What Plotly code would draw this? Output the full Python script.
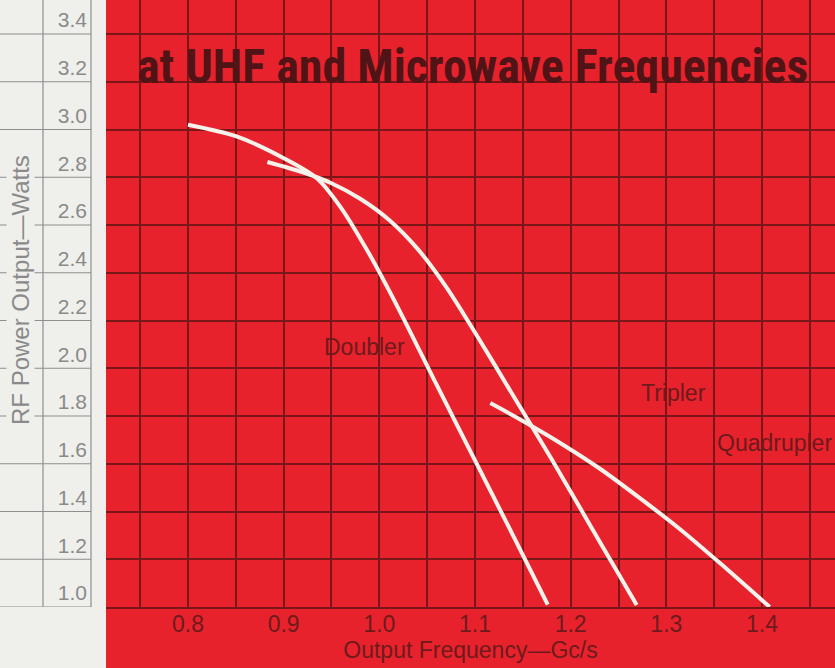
import plotly.graph_objects as go

# values (Gc/s, watts)
doubler_x = [0.800, 0.850, 0.900, 0.935, 0.960, 0.990, 1.020, 1.060, 1.100, 1.140, 1.176]
doubler_y = [3.020, 2.972, 2.880, 2.795, 2.672, 2.475, 2.250, 1.930, 1.614, 1.298, 1.010]

tripler_x = [0.883, 0.920, 0.950, 0.980, 1.010, 1.040, 1.070, 1.100, 1.140, 1.180, 1.220, 1.269]
tripler_y = [2.864, 2.821, 2.775, 2.710, 2.622, 2.500, 2.340, 2.150, 1.885, 1.620, 1.345, 1.008]

quadrupler_x = [1.116, 1.150, 1.189, 1.231, 1.272, 1.314, 1.356, 1.408]
quadrupler_y = [1.854, 1.779, 1.687, 1.578, 1.457, 1.327, 1.184, 1.000]

y_ticks = [1.0, 1.2, 1.4, 1.6, 1.8, 2.0, 2.2, 2.4, 2.6, 2.8, 3.0, 3.2, 3.4]

RED = "#e8222c"
GRID = "#7a1518"
STRIP = "#efefec"
STRIP_LINE = "#8e8e8e"
DARK = "#6e1a1c"
CURVE = "#f5f2ec"
SANS = "Liberation Sans, Arial, sans-serif"

W, H = 835, 668
L, B = 106, 61
pw = W - L
ph = H - B

fig = go.Figure()
for xs, ys in [(doubler_x, doubler_y), (tripler_x, tripler_y), (quadrupler_x, quadrupler_y)]:
    fig.add_trace(go.Scatter(x=xs, y=ys, mode="lines",
                             line=dict(color=CURVE, width=4, shape="spline", smoothing=0.8),
                             showlegend=False, hoverinfo="skip"))

# light strip on the left with its own ruling
shapes = [dict(type="rect", xref="paper", yref="paper", x0=-L / pw, x1=0, y0=-B / ph, y1=1,
               fillcolor=STRIP, line_width=0, layer="below")]
for px in [43, 91]:
    shapes.append(dict(type="line", xref="paper", yref="paper",
                       x0=(px - L) / pw, x1=(px - L) / pw, y0=0, y1=1,
                       line=dict(color=STRIP_LINE, width=1.2)))
for v in y_ticks:
    shapes.append(dict(type="line", xref="paper", yref="y",
                       x0=-L / pw, x1=(91 - L) / pw, y0=v, y1=v,
                       line=dict(color=STRIP_LINE, width=1.2)))
fig.update_layout(shapes=shapes)

fig.add_annotation(text="at UHF and Microwave Frequencies", xref="paper", yref="paper",
                   x=(472 - L) / pw, y=(ph - 66) / ph, xanchor="center", yanchor="middle",
                   showarrow=False,
                   font=dict(family="Roboto Condensed, DejaVu Sans Condensed, Liberation Sans, sans-serif",
                             size=48, color="#511416", weight="bold"))

label_font = dict(family=SANS, size=23, color=DARK)
fig.add_annotation(text="Doubler", x=0.985, y=2.089, showarrow=False, font=label_font)
fig.add_annotation(text="Tripler", x=1.307, y=1.896, showarrow=False, font=label_font)
fig.add_annotation(text="Quadrupler", x=1.475, y=1.687, xanchor="right", showarrow=False,
                   font=label_font)

fig.add_annotation(text="RF Power Output\u2014Watts", xref="paper", yref="paper",
                   x=(20 - L) / pw, y=(ph - 290) / ph, xanchor="center", yanchor="middle",
                   textangle=-90, showarrow=False, bgcolor=STRIP, borderpad=0,
                   font=dict(family=SANS, size=24, color="#8a8a8a"))

fig.update_xaxes(range=[0.7143, 1.4763], tick0=0.8, dtick=0.1, tickformat=".1f",
                 showgrid=True, gridcolor=GRID, gridwidth=1.6,
                 minor=dict(dtick=0.05, showgrid=True, gridcolor=GRID, gridwidth=1.6),
                 showline=True, linecolor=GRID, linewidth=1.6, zeroline=False,
                 ticks="", ticklabelstandoff=-4,
                 tickfont=dict(family=SANS, size=23, color=DARK),
                 title=dict(text="Output Frequency\u2014Gc/s", standoff=5,
                            font=dict(family=SANS, size=23, color=DARK)))
fig.update_yaxes(range=[1.0, 3.4 + 34 / 238.75], tickvals=y_ticks, tickformat=".1f",
                 showgrid=True, gridcolor=GRID, gridwidth=1.6, zeroline=False,
                 ticks="", ticklabelstandoff=18, ticklabelshift=-14,
                 tickfont=dict(family=SANS, size=21, color="#8a8a8a"))

fig.update_layout(width=W, height=H, margin=dict(l=L, r=0, t=0, b=B, pad=0),
                  paper_bgcolor=RED, plot_bgcolor=RED)

# drop the browser's default page margin so the figure fills the window
fig.write_html("out.html", config={"displayModeBar": False},
               post_script="document.body.style.margin = '0';")
